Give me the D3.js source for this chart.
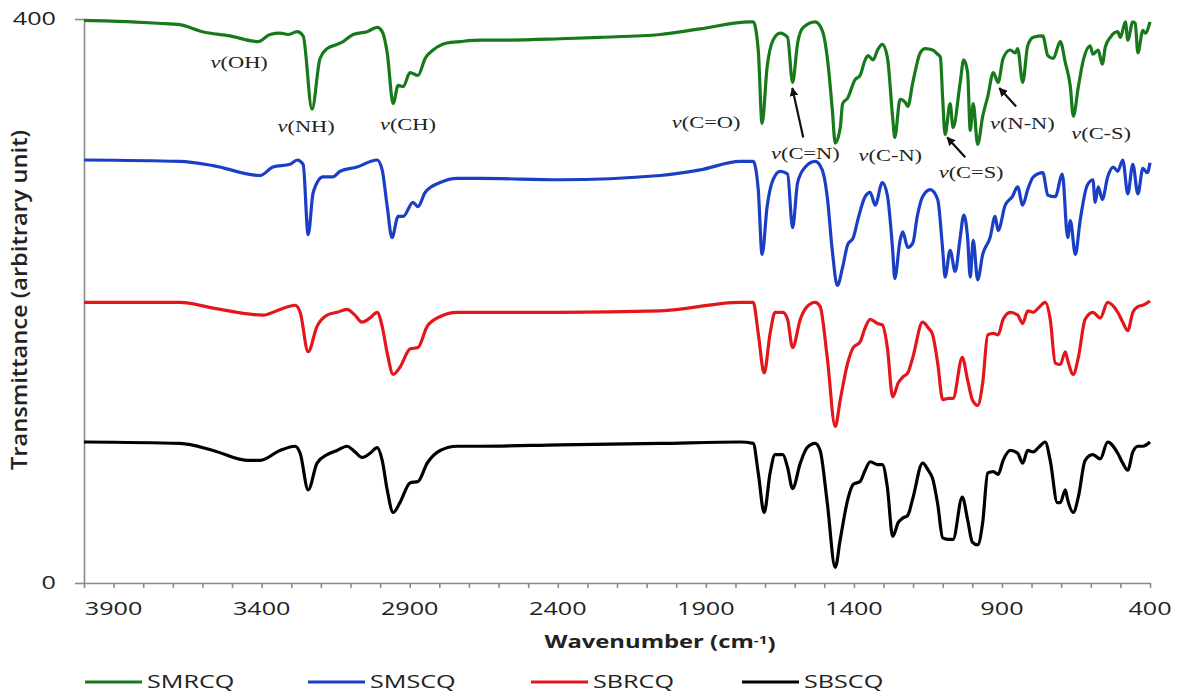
<!DOCTYPE html>
<html>
<head>
<meta charset="utf-8">
<script src="https://cdn.jsdelivr.net/npm/d3@7"></script>
<style>
  body { margin: 0; background: #fff; }
  svg { display: block; }
  .sans { font-family: "Open Sans", "DejaVu Sans", sans-serif; fill: #222; }
  .serif { font-family: "Liberation Serif", "DejaVu Serif", serif; fill: #222; }
</style>
</head>
<body>
<svg id="chart" width="1183" height="698"></svg>
<script>
// wavenumber (cm-1), transmittance (arbitrary unit, stacked)
const smrcq = [[4000,399],[3840,398],[3750,397],[3677,396],[3600,391],[3507,388],[3412,384],[3372,389],[3338,390],[3311,389],[3280,391],[3260,388],[3230,336],[3203,372],[3179,379],[3145,382],[3125,384],[3091,389],[3044,391],[3010,394],[2993,391],[2976,376],[2956,340],[2939,353],[2922,352],[2899,362],[2872,360],[2848,372],[2821,378],[2774,383],[2730,384],[2662,385],[2595,385],[2392,386],[2257,387],[2054,389],[1919,393],[1750,398],[1740,398],[1723,378],[1710,326],[1693,366],[1673,385],[1649,390],[1624,387],[1607,355],[1590,383],[1571,394],[1531,398],[1507,392],[1490,373],[1473,336],[1463,312],[1446,323],[1438,340],[1421,344],[1396,357],[1379,360],[1362,371],[1352,374],[1335,371],[1320,378],[1304,382],[1287,373],[1269,330],[1262,316],[1244,343],[1227,341],[1218,338],[1201,355],[1176,376],[1159,379],[1134,378],[1117,375],[1108,373],[1100,343],[1092,318],[1075,340],[1065,323],[1041,355],[1029,371],[1016,362],[1007,321],[997,340],[982,311],[965,331],[948,345],[929,362],[913,355],[896,372],[872,378],[855,376],[847,379],[830,355],[813,381],[794,387],[762,388],[745,374],[727,372],[703,384],[686,369],[669,352],[659,331],[642,352],[625,371],[602,381],[593,375],[575,378],[561,368],[551,380],[534,387],[509,391],[500,387],[483,398],[475,385],[458,398],[450,397],[441,376],[424,392],[416,390],[400,398]];

const smscq = [[4000,300],[3676,299],[3564,296],[3405,289],[3362,295],[3304,297],[3280,300],[3260,297],[3243,247],[3226,277],[3193,288],[3159,288],[3135,292],[3078,295],[3010,300],[2993,293],[2976,267],[2960,245],[2939,260],[2922,260],[2889,270],[2872,267],[2848,277],[2797,284],[2740,287],[2662,287],[2392,286],[2054,289],[1919,293],[1784,299],[1740,299],[1723,279],[1710,233],[1693,267],[1673,286],[1649,292],[1624,290],[1607,252],[1590,284],[1564,295],[1531,299],[1507,293],[1490,274],[1473,236],[1456,211],[1438,224],[1421,240],[1402,245],[1385,259],[1362,274],[1345,277],[1328,268],[1304,284],[1287,275],[1269,236],[1262,216],[1244,243],[1235,249],[1218,238],[1201,241],[1186,260],[1168,274],[1142,279],[1117,272],[1100,236],[1092,217],[1075,236],[1058,221],[1041,245],[1029,261],[1016,245],[1007,217],[997,243],[982,215],[965,233],[940,245],[923,260],[913,250],[889,268],[865,274],[847,281],[830,268],[813,279],[794,288],[762,291],[745,275],[720,274],[696,290],[678,245],[669,257],[652,233],[636,257],[612,282],[593,286],[585,270],[575,281],[561,272],[543,288],[524,295],[509,292],[492,300],[475,276],[458,297],[441,276],[424,294],[409,291],[400,298]];

const sbrcq = [[4000,199],[3676,199],[3564,195],[3395,190],[3338,194],[3287,197],[3270,192],[3243,164],[3213,182],[3179,190],[3145,192],[3112,194],[3085,190],[3061,185],[3034,188],[3010,192],[2993,182],[2976,163],[2956,148],[2933,153],[2899,166],[2872,167],[2841,182],[2797,189],[2740,192],[2662,192],[2392,192],[2054,193],[1784,199],[1740,199],[1723,177],[1703,149],[1683,177],[1666,192],[1640,192],[1624,187],[1607,167],[1581,187],[1558,196],[1531,199],[1514,196],[1490,160],[1463,111],[1446,130],[1421,156],[1402,167],[1379,171],[1362,181],[1345,187],[1320,184],[1304,183],[1287,167],[1269,132],[1250,142],[1235,146],[1218,149],[1201,160],[1168,185],[1149,181],[1134,176],[1117,156],[1100,130],[1081,131],[1065,131],[1034,160],[1016,144],[1000,130],[982,126],[965,142],[948,176],[929,177],[913,176],[896,187],[872,192],[847,190],[830,184],[813,193],[794,192],[777,195],[754,199],[737,187],[720,156],[703,155],[686,164],[678,158],[659,148],[642,160],[619,187],[593,192],[568,188],[543,199],[509,192],[492,185],[475,179],[458,192],[441,196],[424,197],[400,200]];

const sbscq = [[4000,100],[3676,99],[3564,94],[3449,87],[3405,87],[3338,94],[3287,97],[3270,92],[3243,66],[3213,85],[3179,91],[3145,94],[3112,97],[3085,93],[3061,89],[3034,92],[3010,96],[2993,87],[2976,66],[2956,50],[2933,57],[2899,71],[2872,72],[2841,85],[2797,94],[2740,97],[2662,97],[2392,98],[2054,99],[1784,100],[1740,99],[1723,78],[1703,50],[1683,78],[1666,91],[1640,91],[1624,82],[1607,67],[1581,85],[1558,96],[1531,99],[1514,94],[1490,57],[1463,11],[1446,31],[1421,59],[1402,70],[1379,72],[1362,80],[1345,86],[1320,84],[1304,84],[1287,68],[1269,33],[1250,43],[1235,46],[1218,48],[1201,60],[1168,85],[1149,80],[1134,74],[1117,56],[1100,32],[1081,31],[1065,31],[1034,61],[1016,45],[1000,29],[982,27],[965,43],[948,78],[929,79],[913,77],[896,87],[872,94],[847,92],[830,85],[813,94],[794,93],[777,96],[754,100],[737,87],[713,57],[703,57],[686,66],[678,59],[659,50],[642,61],[619,87],[593,91],[568,88],[543,100],[509,92],[492,85],[475,80],[458,93],[441,97],[424,97],[400,100]];

const seriesNames = ["SMRCQ", "SMSCQ", "SBRCQ", "SBSCQ"];
const seriesData = [smrcq, smscq, sbrcq, sbscq];
const seriesColors = ["#17791a", "#1a3fc4", "#e3161b", "#000000"];

const xTicks = d3.range(4000, 399, -100);
const xTickLabels = [3900, 3400, 2900, 2400, 1900, 1400, 900, 400];
const yTicks = [0, 400];

// band labels: [text, wavenumber, transmittance]
const bandLabels = [
  ["(OH)", 3476, 369],
  ["(NH)", 3250, 324],
  ["(CH)", 2906, 325],
  ["(C=O)", 1899, 327],
  ["(C=N)", 1564, 305],
  ["(C-N)", 1277, 303],
  ["(C=S)", 1004, 291],
  ["(N-N)", 831, 326],
  ["(C-S)", 565, 319]
];
// arrows: [from wn, from T, to wn, to T]
const arrows = [
  [1571, 316, 1608, 351],
  [1024, 302, 1085, 316],
  [852, 338, 909, 351]
];

const SX = 1.4; // horizontal stretch of the source picture's text

const svg = d3.select("#chart");

const x = d3.scaleLinear().domain([4000, 400]).range([84, 1150]);
const y = d3.scaleLinear().domain([0, 400]).range([583, 19]);

// axes
const xAxis = svg.append("g")
  .attr("transform", `translate(0,${y(0)})`)
  .call(d3.axisBottom(x).tickValues(xTicks).tickSize(5).tickSizeOuter(0).tickFormat(""));
const yAxis = svg.append("g")
  .attr("transform", `translate(${x(4000)},0)`)
  .call(d3.axisLeft(y).tickValues(yTicks).tickSize(9).tickSizeOuter(0).tickFormat(""));
[xAxis, yAxis].forEach(function (g) {
  g.selectAll("path, line").attr("stroke", "#8a8a8a").attr("stroke-width", 1.6);
});

xTickLabels.forEach(function (v) {
  svg.append("text").attr("class", "sans")
    .attr("transform", `translate(${x(v)},${y(0) + 26}) scale(${SX},1)`)
    .attr("text-anchor", "middle").attr("dy", "0.35em")
    .style("font-size", "18px").text(v);
});
yTicks.forEach(function (v) {
  svg.append("text").attr("class", "sans")
    .attr("transform", `translate(56,${y(v)}) scale(${SX},1)`)
    .attr("text-anchor", "end").attr("dy", "0.35em")
    .style("font-size", "18px").text(v);
});

// axis titles
const xt = svg.append("text").attr("class", "sans")
  .attr("transform", `translate(660,642) scale(${SX},1)`)
  .attr("text-anchor", "middle").attr("dy", "0.35em")
  .style("font-size", "17px").style("font-weight", "bold");
xt.append("tspan").text("Wavenumber (cm");
xt.append("tspan").attr("dy", "-0.4em").style("font-size", "11px").text("-1");
xt.append("tspan").attr("dy", "0.4em").text(")");

svg.append("text").attr("class", "sans")
  .attr("transform", `translate(19,300) rotate(-90) scale(1,1.2)`)
  .attr("text-anchor", "middle").attr("dy", "0.35em")
  .attr("textLength", 340).attr("lengthAdjust", "spacingAndGlyphs")
  .style("font-size", "18px").style("font-weight", "600")
  .text("Transmittance (arbitrary unit)");

// spectra
const line = d3.line()
  .x(d => x(d[0]))
  .y(d => y(d[1]))
  .curve(d3.curveMonotoneX);

seriesData.forEach(function (data, i) {
  svg.append("path")
    .datum(data)
    .attr("fill", "none")
    .attr("stroke", seriesColors[i])
    .attr("stroke-width", 3.2)
    .attr("stroke-linejoin", "round")
    .attr("d", line);
});

// band labels
bandLabels.forEach(function (b) {
  const t = svg.append("text").attr("class", "serif")
    .attr("transform", `translate(${x(b[1])},${y(b[2])}) scale(${SX},1)`)
    .attr("text-anchor", "middle").attr("dy", "0.35em")
    .style("font-size", "16px");
  t.append("tspan").style("font-style", "italic").text("ν");
  t.append("tspan").text(b[0]);
});

svg.append("defs").append("marker")
  .attr("id", "head").attr("viewBox", "0 0 10 10")
  .attr("refX", 9).attr("refY", 5)
  .attr("markerWidth", 4).attr("markerHeight", 4)
  .attr("orient", "auto")
  .append("path").attr("d", "M0,0L10,5L0,10z").attr("fill", "#111");

arrows.forEach(function (a) {
  svg.append("line")
    .attr("x1", x(a[0])).attr("y1", y(a[1]))
    .attr("x2", x(a[2])).attr("y2", y(a[3]))
    .attr("stroke", "#111").attr("stroke-width", 2.2)
    .attr("marker-end", "url(#head)");
});

// legend
const legendX = [85, 308, 531, 742];
seriesNames.forEach(function (name, i) {
  const g = svg.append("g").attr("transform", `translate(${legendX[i]},682)`);
  g.append("line").attr("x1", 0).attr("x2", 57)
    .attr("stroke", seriesColors[i]).attr("stroke-width", 3);
  g.append("text").attr("class", "sans")
    .attr("transform", `translate(62,0) scale(${SX},1)`)
    .attr("dy", "0.35em").style("font-size", "18px")
    .text(name);
});
</script>
</body>
</html>
